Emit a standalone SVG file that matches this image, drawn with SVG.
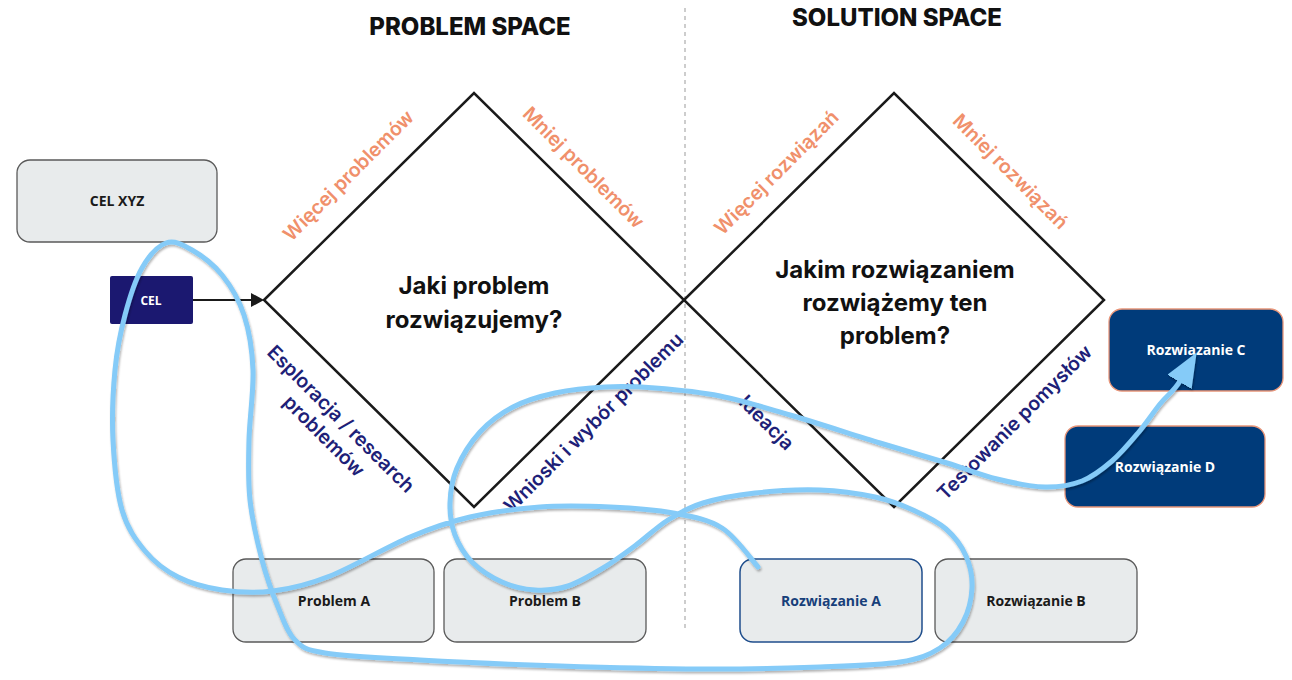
<svg xmlns="http://www.w3.org/2000/svg" width="1292" height="680" viewBox="0 0 1292 680">
<defs>
<style>
.title{font-family:Inter,"Liberation Sans",sans-serif;font-weight:800;font-size:24px;fill:#111;text-anchor:middle}
.q{font-family:Inter,"Liberation Sans",sans-serif;font-weight:700;font-size:24px;fill:#111;text-anchor:middle}
.lbl{font-family:Inter,"Liberation Sans",sans-serif;font-weight:600;font-size:19.5px;text-anchor:middle}
.or{fill:#F0906B}
.nv{fill:#1E1F78}
.dia{fill:none;stroke:#1a1a1a;stroke-width:2.5;stroke-linejoin:miter}
.box{fill:#E8EBEC;stroke:#5a5a5a;stroke-width:1.3}
.boxa{fill:#E8EBEC;stroke:#1F4E8C;stroke-width:1.5}
.boxd{fill:#003B7A;stroke:#E8967A;stroke-width:1.3}
.nt{font-family:"Open Sans","Liberation Sans",sans-serif;font-weight:700;font-size:14px;text-anchor:middle;fill:#1a1a1a}
.wt{fill:#fff}
.at{fill:#173F7A}
.curve{fill:none;stroke:#85CBF8;stroke-width:5;stroke-linecap:round;stroke-linejoin:round}
</style>
<marker id="blk" markerUnits="userSpaceOnUse" markerWidth="13" markerHeight="14" viewBox="0 0 13 14" refX="1" refY="7" orient="auto">
<path d="M0,0 L13,7 L0,14 z" fill="#1a1a1a"/>
</marker>
<marker id="blu" markerUnits="userSpaceOnUse" markerWidth="34" markerHeight="28" viewBox="0 0 34 28" refX="1" refY="14" orient="auto">
<path d="M0,0 L34,14 L0,28 z" fill="#85CBF8"/>
</marker>
<filter id="sh" x="-5%" y="-5%" width="110%" height="110%">
<feDropShadow dx="1" dy="2" stdDeviation="1.2" flood-color="#000" flood-opacity="0.3"/>
</filter>
</defs>

<g id="titles">
<text class="title" x="470" y="35">PROBLEM SPACE</text>
<text class="title" x="897" y="26">SOLUTION SPACE</text>
</g>

<line id="divider" x1="685" y1="8" x2="685" y2="628" stroke="#bdbdbd" stroke-width="1.5" stroke-dasharray="4 4"/>

<g id="diamond-problem">
<polygon class="dia" points="264,300 474,93 684,300 474,507"/>
<text class="q" x="474" y="294">Jaki problem</text>
<text class="q" x="474" y="328">rozwiązujemy?</text>
</g>

<g id="diamond-solution">
<polygon class="dia" points="684,300 894,93 1104,300 894,507"/>
<text class="q" x="895" y="278">Jakim rozwiązaniem</text>
<text class="q" x="895" y="311">rozwiążemy ten</text>
<text class="q" x="895" y="344">problem?</text>
</g>

<g id="edge-labels">
<text class="lbl or" transform="translate(349,176) rotate(-45)" y="6">Więcej problemów</text>
<text class="lbl or" transform="translate(583,168) rotate(45)" y="6">Mniej problemów</text>
<text class="lbl nv" transform="translate(332,428) rotate(45)"><tspan x="0" y="-6">Esploracja / research</tspan><tspan x="0" y="18">problemów</tspan></text>
<text class="lbl nv" transform="translate(594,423) rotate(-45)" y="6">Wnioski i wybór problemu</text>
<text class="lbl or" transform="translate(777,173) rotate(-45)" y="6">Więcej rozwiązań</text>
<text class="lbl or" transform="translate(1010,172) rotate(45)" y="6">Mniej rozwiązań</text>
<text class="lbl nv" transform="translate(766,423) rotate(45)" y="6">Ideacja</text>
<text class="lbl nv" transform="translate(1015,423) rotate(-45)" y="6">Testowanie pomysłów</text>
</g>

<g id="node-cel-xyz">
<rect class="box" x="17" y="160" width="200" height="82" rx="13"/>
<text class="nt" x="117" y="206">CEL XYZ</text>
</g>

<g id="node-cel">
<rect x="110" y="276" width="83" height="48" rx="2" fill="#1B1870"/>
<text class="nt wt" x="151" y="305" style="font-size:12px">CEL</text>
</g>

<g id="node-problem-a">
<rect class="box" x="233" y="559" width="201" height="83" rx="13"/>
<text class="nt" x="334" y="606">Problem A</text>
</g>

<g id="node-problem-b">
<rect class="box" x="444" y="559" width="202" height="83" rx="13"/>
<text class="nt" x="545" y="606">Problem B</text>
</g>

<g id="node-rozwiazanie-a">
<rect class="boxa" x="740" y="559" width="182" height="83" rx="13"/>
<text class="nt at" x="831" y="606">Rozwiązanie A</text>
</g>

<g id="node-rozwiazanie-b">
<rect class="box" x="935" y="559" width="202" height="83" rx="13"/>
<text class="nt" x="1036" y="606">Rozwiązanie B</text>
</g>

<g id="node-rozwiazanie-c">
<rect class="boxd" x="1109" y="309" width="174" height="82" rx="13"/>
<text class="nt wt" x="1196" y="355">Rozwiazanie C</text>
</g>

<g id="node-rozwiazanie-d">
<rect class="boxd" x="1065" y="426" width="200" height="81" rx="13"/>
<text class="nt wt" x="1165" y="472">Rozwiązanie D</text>
</g>

<g id="connectors">
<line x1="193" y1="300" x2="252" y2="300" stroke="#1a1a1a" stroke-width="2.2" marker-end="url(#blk)"/>
<path class="curve" filter="url(#sh)" marker-end="url(#blu)" d="M758,567 C752,560.5 736.2,537 722,528 S691.7,516.5 673,513 S632.2,508 610,507 S563.3,505.3 540,507 S491.7,512 470,517 S433.3,527.2 410,537 S352.8,567 330,576 S291,588.7 273,591 S237.8,592.3 222,590 S190.8,583.5 178,577 S154.3,562.2 145,551 S127.3,528.5 122,510 S114.2,463.3 113,440 S113,390.8 115,370 S120.5,332 125,315 S135.2,280 142,268 S157.7,246 166,243 S182.7,244.7 192,250 S213.3,264.2 222,275 S238.8,299.2 244,315 S252.2,349.2 253,370 S249.5,418.3 249,440 S247.8,480 250,500 S257.3,542.2 262,560 S272.5,593.7 278,607 S287.2,632.3 295,640 S304.2,649.7 325,653 S380.8,657.8 420,660 S513.3,664.5 560,666 S656.7,668.8 700,669 S786.7,668.2 820,667 S880,665.2 900,662 S929.5,654.7 940,648 S957.7,632 963,622 S971.5,599 972,588 S970.3,565.8 966,556 S954.8,536.7 946,529 S924.8,515.3 913,510 S890.5,500.3 875,497 S840,490.7 820,490 S774.5,490.8 755,493 S717.5,498.5 703,503 S679.2,513 668,520 S646.8,537 636,545 S614.3,561.2 603,568 S579.3,582.3 568,586 S546,590.7 535,590 S512.5,586.7 502,582 S479.8,569.8 472,562 S458.7,544.8 455,535 S449.7,514.2 450,503 S452,479.8 457,468 S470.7,442.2 480,432 S500.5,413.5 513,407 S539.7,396.3 555,393 S588.3,387.8 605,387 S635.8,386.5 655,388 S697.5,391.5 720,396 S763.3,407.2 790,415 S853.8,435 880,443 S927.5,457 947,463 S980.7,475 997,479 S1030.8,486.7 1045,487 S1070.8,485.3 1082,481 S1102.7,469 1112,461 S1130,442.5 1138,433 S1153,412.7 1160,404 S1174,391.3 1180,381"/>
</g>
</svg>
